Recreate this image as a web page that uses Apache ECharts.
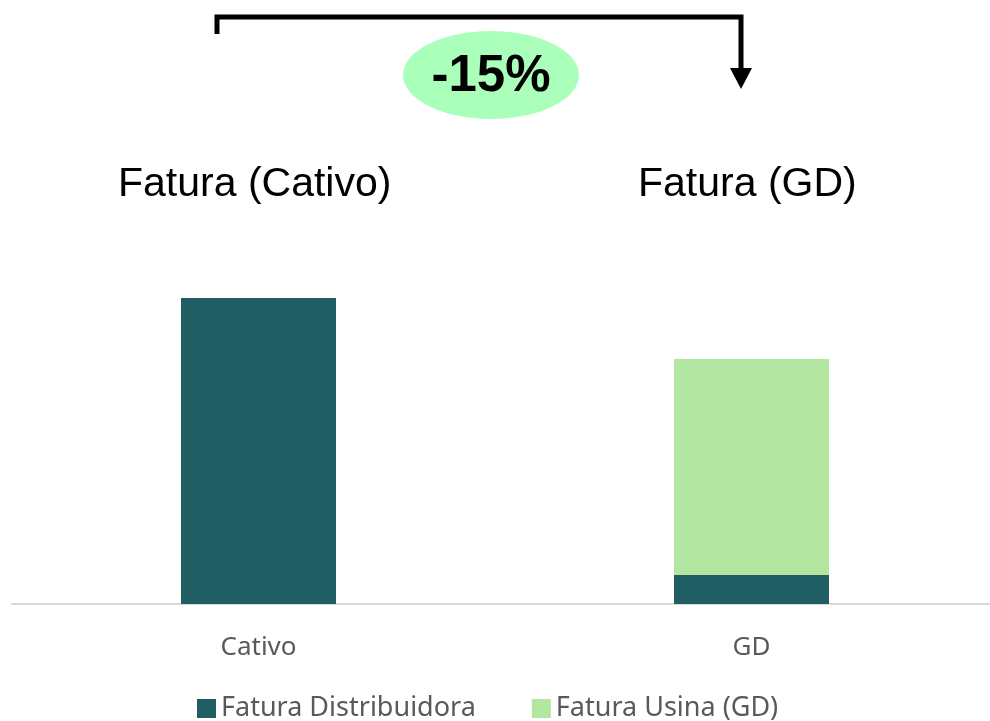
<!DOCTYPE html>
<html>
<head>
<meta charset="utf-8">
<script src="https://cdn.jsdelivr.net/npm/echarts@6/dist/echarts.min.js"></script>
<style>
  html, body { margin: 0; padding: 0; background: #fff; }
  #main { width: 990px; height: 721px; }
</style>
</head>
<body>
<div id="main"></div>
<script>
// categorias e valores (Cativo = 100)
var categorias = ['Cativo', 'GD'];
var faturaDistribuidora = [100, 9.5];
var faturaUsina = [0, 70.6];
var titulos = ['Fatura (Cativo)', 'Fatura (GD)'];
var reducao = '-15%';

var corEscura = '#215E64';
var corClara = '#B3E6A0';

var myChart = echarts.init(document.getElementById('main'));

var option = {
  animation: false,
  grid: { left: 12, width: 986, top: 236.8, bottom: 117, outerBoundsMode: 'none' },
  legend: {
    bottom: -6,
    left: 192,
    itemWidth: 19,
    itemHeight: 19,
    itemGap: 56,
    icon: 'rect',
    textStyle: { color: '#595959', fontSize: 27, fontFamily: 'Noto Sans' },
    data: ['Fatura Distribuidora', 'Fatura Usina (GD)']
  },
  xAxis: {
    type: 'category',
    data: categorias,
    axisLine: { lineStyle: { color: '#D9D9D9', width: 2 } },
    axisTick: { show: false },
    axisLabel: { color: '#595959', fontSize: 26, fontFamily: 'Noto Sans', margin: 31 }
  },
  yAxis: {
    type: 'value',
    min: 0,
    max: 120,
    show: false,
    splitLine: { show: false }
  },
  series: [
    {
      name: 'Fatura Distribuidora',
      type: 'bar',
      stack: 'a',
      barWidth: 155,
      itemStyle: { color: corEscura },
      data: faturaDistribuidora
    },
    {
      name: 'Fatura Usina (GD)',
      type: 'bar',
      stack: 'a',
      barWidth: 155,
      itemStyle: { color: corClara },
      data: faturaUsina
    }
  ],
  graphic: [
    // títulos acima das barras
    { type: 'text', left: 118, top: 164, style: { text: titulos[0], fontSize: 41, fontFamily: 'Liberation Sans', fill: '#000' } },
    { type: 'text', left: 638, top: 164, style: { text: titulos[1], fontSize: 41, fontFamily: 'Liberation Sans', fill: '#000' } },
    // seta em colchete
    { type: 'polyline', shape: { points: [[217, 34], [217, 17], [741, 17], [741, 70]] },
      style: { stroke: '#000', lineWidth: 5, fill: null } },
    { type: 'polygon', shape: { points: [[730, 68], [752, 68], [741, 89]] }, style: { fill: '#000' } },
    // elipse com percentual
    { type: 'ellipse', shape: { cx: 491, cy: 75, rx: 88, ry: 44 }, style: { fill: '#AAFFBB' } },
    { type: 'text', x: 491, y: 77, style: { text: reducao, fontSize: 51, fontWeight: 'bold', fontFamily: 'Liberation Sans',
      fill: '#000', align: 'center', verticalAlign: 'middle' } }
  ]
};

myChart.setOption(option);
</script>
</body>
</html>
